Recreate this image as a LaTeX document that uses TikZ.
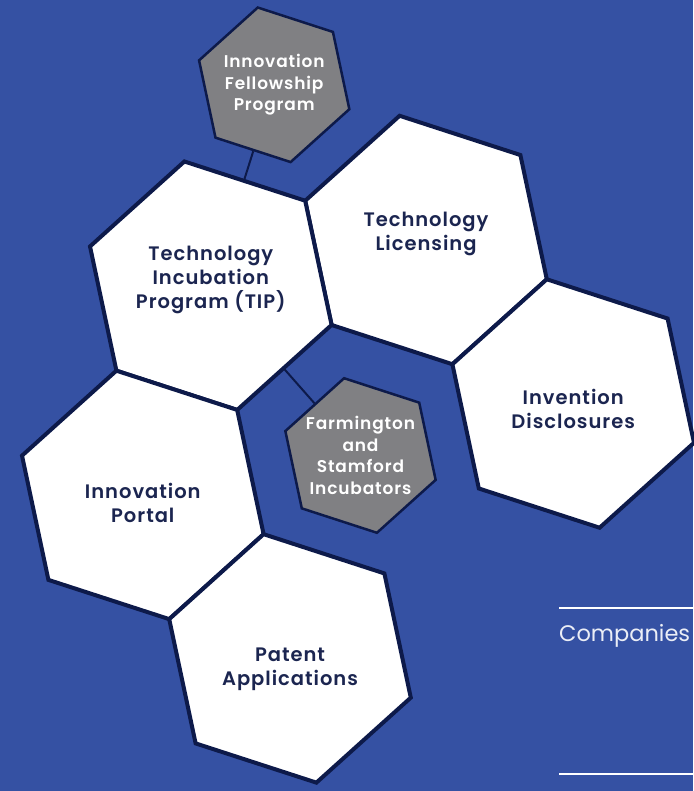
\documentclass[tikz,border=0pt]{standalone}
\usepackage{fontspec}
\setmainfont{Poppins}
\newfontfamily\hexfont{Poppins}[UprightFont={* SemiBold}, LetterSpace=5]
\usepackage{xcolor}
\usepackage{tikz}
\usetikzlibrary{shapes.geometric}
\definecolor{bg-blue}{HTML}{3551A3}
\definecolor{hex-navy}{HTML}{0D1A4A}
\definecolor{hex-gray}{HTML}{808083}
\definecolor{label-navy}{HTML}{1B2550}

\begin{document}
\begin{tikzpicture}[x=1pt, y=-1pt,
    hexbig/.style = {shape=regular polygon, regular polygon sides=6,
          shape border rotate=42, draw=hex-navy, line width=4pt,
          fill=white, inner sep=0pt, minimum size=254pt},
    hexsmall/.style = {shape=regular polygon, regular polygon sides=6,
          shape border rotate=42, draw=hex-navy, line width=2.5pt,
          fill=hex-gray, inner sep=0pt, minimum size=158pt},
    biglabel/.style = {text=label-navy, align=center,
          font=\hexfont\fontsize{19.5}{24}\selectfont},
    smalllabel/.style = {text=white, align=center,
          font=\hexfont\fontsize{17}{21.5}\selectfont},
    link/.style = {draw=hex-navy, line width=2pt},
    rule/.style = {draw=white, line width=2pt}]

  \fill[bg-blue] (0,0) rectangle (693,791);
  \useasboundingbox (0,0) rectangle (693,791);

  \node [hexbig, label={[biglabel, yshift=6pt]center:Technology\\Licensing}] (licensing) at (426,240) {};
  \node [hexbig, label={[biglabel, yshift=6pt]center:Technology\\Incubation\\Program (TIP)}] (tip) at (210.8,285.7) {};
  \node [hexbig, label={[biglabel, yshift=-5pt]center:Invention\\Disclosures}] (invention) at (573.2,403.5) {};
  \node [hexbig, label={[biglabel, yshift=-8pt]center:Innovation\\Portal}] (portal) at (142.8,494.9) {};
  \node [hexbig, label={[biglabel, yshift=-11pt]center:Patent\\Applications}] (patent) at (290,658.4) {};

  \node [hexsmall, label={[smalllabel]center:Innovation\\Fellowship\\Program}] (fellowship) at (274.2,84.8) {};
  \node [hexsmall, label={[smalllabel]center:Farmington\\and\\Stamford\\Incubators}] (incubators) at (360.5,455.5) {};

  \draw [link] (fellowship) -- (tip);
  \draw [link] (incubators) -- (tip);

  \coordinate (rule-top-w) at (559,608);
  \coordinate (rule-top-e) at (693,608);
  \coordinate (rule-bot-w) at (559,774);
  \coordinate (rule-bot-e) at (693,774);
  \draw [rule] (rule-top-w) -- (rule-top-e);
  \draw [rule] (rule-bot-w) -- (rule-bot-e);
  \node [anchor=base west, inner sep=0pt, text=white!90!bg-blue,
         font=\fontsize{22.5}{24}\selectfont] (companies) at (559,641) {Companies};
\end{tikzpicture}
\end{document}
